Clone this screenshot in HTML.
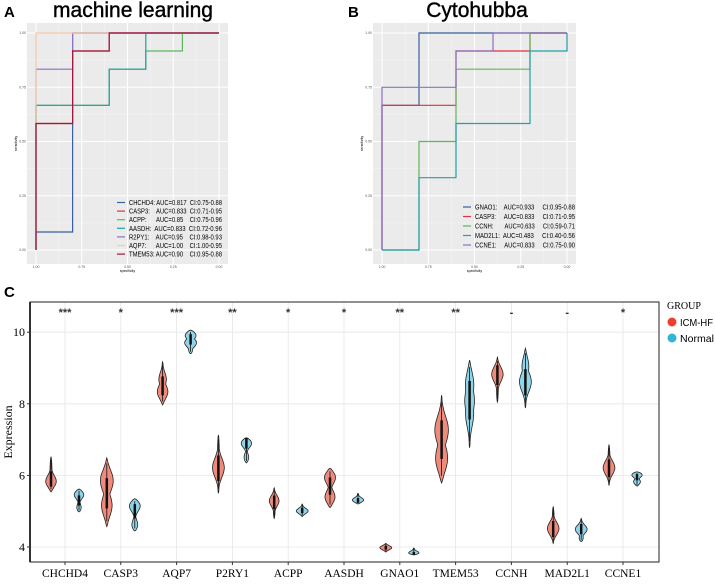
<!DOCTYPE html>
<html><head><meta charset="utf-8"><style>
body{margin:0;background:#fff;width:715px;height:580px;overflow:hidden}
svg{font-family:"Liberation Sans",sans-serif}
.serif{font-family:"Liberation Serif",serif}
.pre{white-space:pre}
</style></head><body>
<svg id="s" width="715" height="580" viewBox="0 0 715 580" xmlns="http://www.w3.org/2000/svg">
<text x="4" y="17" font-size="15" font-weight="bold">A</text>
<text x="348" y="17" font-size="15" font-weight="bold">B</text>
<text x="4" y="297" font-size="15" font-weight="bold">C</text>
<text x="133" y="17" font-size="21" text-anchor="middle" stroke="#000" stroke-width="0.4">machine learning</text>
<text x="477" y="17" font-size="21" text-anchor="middle" stroke="#000" stroke-width="0.4">Cytohubba</text>
<g id="ga"></g>
<g id="gb"></g>
<g id="gc"></g>
</svg>
<script>
// ---- ROC data A ----
const rocANames=["CHCHD4","CASP3","ACPP","AASDH","R2PY1","AQP7","TMEM53"];
const rocALabels=["CHCHD4: AUC=0.817  CI:0.75-0.88","CASP3:    AUC=0.833  CI:0.71-0.95","ACPP:      AUC=0.85    CI:0.75-0.96","AASDH:  AUC=0.833  CI:0.72-0.96","R2PY1:    AUC=0.95    CI:0.98-0.93","AQP7:      AUC=1.00    CI:1.00-0.95","TMEM53: AUC=0.90    CI:0.95-0.88"];
const rocAColors=["#3a5fa0","#e0303a","#5cb85c","#20a0a8","#9070c0","#f8c8a8","#a01840"];
const rocACurves=[
[[1,0],[1,0.083],[0.8,0.083],[0.8,1],[0,1]],
[[1,0],[1,0.583],[0.8,0.583],[0.8,0.917],[0.6,0.917],[0.6,1],[0,1]],
[[1,0],[1,0.667],[0.6,0.667],[0.6,0.833],[0.4,0.833],[0.4,0.917],[0.2,0.917],[0.2,1],[0,1]],
[[1,0],[1,0.667],[0.6,0.667],[0.6,0.833],[0.4,0.833],[0.4,1],[0,1]],
[[1,0],[1,0.833],[0.8,0.833],[0.8,1],[0,1]],
[[1,0],[1,1],[0,1]],
[[1,0],[1,0.583],[0.8,0.583],[0.8,0.917],[0.6,0.917],[0.6,1],[0,1]]];
// ---- ROC data B ----
const rocBLabels=["GNAO1:    AUC=0.933     CI:0.95-0.88","CASP3:     AUC=0.833     CI:0.71-0.95","CCNH:       AUC=0.633     CI:0.59-0.71","MAD2L1:  AUC=0.483     CI:0.40-0.56","CCNE1:     AUC=0.833     CI:0.75-0.90"];
const rocBColors=["#3a5fa0","#e0303a","#5cb85c","#20a0a8","#9070c0"];
const rocBCurves=[
[[1,0],[1,0.667],[0.8,0.667],[0.8,1],[0,1]],
[[1,0],[1,0.667],[0.6,0.667],[0.6,0.917],[0.2,0.917],[0.2,1],[0,1]],
[[1,0],[0.8,0],[0.8,0.5],[0.6,0.5],[0.6,0.833],[0.2,0.833],[0.2,1],[0,1]],
[[1,0],[0.8,0],[0.8,0.333],[0.6,0.333],[0.6,0.583],[0.2,0.583],[0.2,0.917],[0,0.917],[0,1]],
[[1,0],[1,0.75],[0.6,0.75],[0.6,0.917],[0.4,0.917],[0.4,1],[0,1]]];
const rocTicks=[1,0.75,0.5,0.25,0];
const rocTickLabels=["1.00","0.75","0.50","0.25","0.00"];
// ---- Violin data C ----
const genes=["CHCHD4","CASP3","AQP7","P2RY1","ACPP","AASDH","GNAO1","TMEM53","CCNH","MAD2L1","CCNE1"];
const sigLabels=["***","*","***","**","*","*","**","**","-","-","*"];
const redLo=[5.54,4.57,7.97,5.5,4.8,5.1,3.86,5.79,8.05,4.1,5.73];
const redHi=[6.51,6.49,9.17,7.13,5.65,6.2,4.1,8.24,9.3,5.12,6.85];
const redMed=[5.9,5.5,8.5,6.2,5.25,5.7,3.98,7.0,8.8,4.5,6.2];
const redBulgeAt=[[5.8],[5.9,5.1],[8.3,8.7],[6.2],[5.3],[6.0,5.35],[3.98],[7.3,6.4],[8.85],[4.5],[6.2]];
const redBulgeD=[[0.85],[1,0.85],[0.85,0.55],[0.85],[0.7],[1,0.85],[0.85],[1,1],[0.85],[0.85],[0.85]];
const bluLo=[4.98,4.45,9.4,6.35,4.85,5.2,3.78,6.77,7.88,4.15,5.7];
const bluHi=[5.62,5.35,10.06,7.05,5.2,5.5,3.97,9.22,9.55,4.8,6.1];
const bluMed=[5.3,5.0,9.8,6.9,5.02,5.3,3.82,8.1,8.6,4.5,5.95];
const bluBulgeAt=[[5.5,5.05],[5.2,4.55],[9.95,9.7,9.45],[6.95,6.45],[5.0],[5.3],[3.82],[8.6,7.7,8.1],[8.6,9.1],[4.5,4.2],[6.05,5.8]];
const bluBulgeD=[[0.85,0.45],[1,0.6],[1,0.85,0.45],[1,0.45],[0.85],[0.85],[0.85],[0.7,0.6,0.7],[0.85,0.55],[0.85,0.45],[1,0.55]];
const yTicks=[4,6,8,10];

const NS="http://www.w3.org/2000/svg";
function mk(tag,attrs,parent,name){const e=document.createElementNS(NS,tag);for(const k in attrs)e.setAttribute(k,attrs[k]);


parent.appendChild(e);return e;}

function roc(g,left,right,x0,x1,curves,colors,labels,legX,legY,legH,legW){
  const top=23,bot=264,y0=33,y1=250;
  const X=s=>x0+(1-s)*(x1-x0), Y=v=>y1-v*(y1-y0);
  mk('rect',{x:left,y:top,width:right-left,height:bot-top,fill:'#ebebeb'},g,'plot-background');
  for(let i=0;i<rocTicks.length-1;i++){const m=(rocTicks[i]+rocTicks[i+1])/2;
    mk('line',{x1:left,x2:right,y1:Y(m),y2:Y(m),stroke:'#f6f6f6','stroke-width':0.5},g,'minor-gridline');
    mk('line',{x1:X(m),x2:X(m),y1:top,y2:bot,stroke:'#f6f6f6','stroke-width':0.5},g,'minor-gridline');}
  rocTicks.forEach((t,i)=>{
    mk('line',{x1:left,x2:right,y1:Y(t),y2:Y(t),stroke:'#fff','stroke-width':1},g,'y-gridline');
    mk('line',{x1:X(t),x2:X(t),y1:top,y2:bot,stroke:'#fff','stroke-width':1},g,'x-gridline');
    const a=mk('text',{x:left-1,y:Y(t)+1,'font-size':3.5,'text-anchor':'end',fill:'#555'},g,'y-tick-label');a.textContent=rocTickLabels[i];
    const b=mk('text',{x:X(t),y:bot+4,'font-size':3.5,'text-anchor':'middle',fill:'#555'},g,'x-tick-label');b.textContent=rocTickLabels[i];
  });
  const yt=mk('text',{x:left-10,y:(top+bot)/2,'font-size':3.5,'text-anchor':'middle',transform:`rotate(-90 ${left-10} ${(top+bot)/2})`},g,'y-axis-title');yt.textContent='sensitivity';
  const xt=mk('text',{x:(left+right)/2,y:bot+8,'font-size':3.5,'text-anchor':'middle'},g,'x-axis-title');xt.textContent='specificity';
  curves.forEach((c,i)=>{const d=c.map((p,j)=>(j?'L':'M')+X(p[0]).toFixed(1)+' '+Y(p[1]).toFixed(1)).join(' ');
    mk('path',{d:d,fill:'none',stroke:colors[i],'stroke-width':1.2},g,'roc-curve');});
  labels.forEach((l,i)=>{const yy=legY+i*legH;
    mk('line',{x1:legX,x2:legX+8,y1:yy,y2:yy,stroke:colors[i],'stroke-width':1.2},g,'legend-swatch');
    const t=mk('text',{x:legX+12,y:yy+2.5,'font-size':7,class:'pre',textLength:legW,lengthAdjust:'spacingAndGlyphs'},g,'legend-entry');t.textContent=l;});
}
roc(document.getElementById('ga'),27,228,36,219,rocACurves,rocAColors,rocALabels,117,202.5,8.6,93);
roc(document.getElementById('gb'),373,576,382,567,rocBCurves,rocBColors,rocBLabels,463,207,9.5,100);

// ---- Panel C ----
const gc=document.getElementById('gc');
const L=30,R=659,T=302,B=562;
const Yv=v=>547-(v-4)*35.8;
const Xc=i=>65+i*55.8;
yTicks.forEach(t=>{mk('line',{x1:L,x2:R,y1:Yv(t),y2:Yv(t),stroke:'#e6e6e6','stroke-width':0.8},gc,'y-gridline');
  const a=mk('text',{x:L-5,y:Yv(t)+4,'font-size':12,'text-anchor':'end',class:'serif'},gc,'y-tick-label');a.textContent=t;
  mk('line',{x1:L-3,x2:L,y1:Yv(t),y2:Yv(t),stroke:'#333'},gc,'y-tick');});
genes.forEach((g,i)=>{mk('line',{x1:Xc(i),x2:Xc(i),y1:T,y2:B,stroke:'#e6e6e6','stroke-width':0.8},gc,'x-gridline');
  mk('line',{x1:Xc(i),x2:Xc(i),y1:B,y2:B+3,stroke:'#333'},gc,'x-tick');
  const a=mk('text',{x:Xc(i),y:B+15,'font-size':11.5,'text-anchor':'middle',class:'serif'},gc,'x-tick-label');a.textContent=g;
  const s=mk('text',{x:Xc(i),y:316,'font-size':11,'font-weight':'bold','text-anchor':'middle',fill:'#333'},gc,'significance-label');s.textContent=sigLabels[i];});
mk('rect',{x:L,y:T,width:R-L,height:B-T,fill:'none',stroke:'#222','stroke-width':1},gc,'plot-border');
mk('line',{x1:L,x2:L,y1:T,y2:B,stroke:'#333','stroke-width':2},gc,'y-axis-line');
const yl=mk('text',{x:12,y:432,'font-size':12,'text-anchor':'middle',class:'serif',transform:'rotate(-90 12 432)'},gc,'y-axis-title');yl.textContent='Expression';

function violin(cx,lo,hi,med,at,dd,fill){
  const n=40,sig=0.22*(hi-lo)+0.04,W=7;const left=[],right=[];
  for(let k=0;k<=n;k++){const v=lo+(hi-lo)*k/n,t=k/n;let h=0;
    at.forEach((c,j)=>{h=Math.max(h,dd[j]*Math.exp(-Math.pow((v-c)/sig,2)));});
    h=W*Math.max(h,0.15)*Math.pow(Math.sin(Math.PI*t),0.5);
    right.push([cx+h,Yv(v)]);left.unshift([cx-h,Yv(v)]);}
  const pts=right.concat(left);
  mk('path',{d:'M'+pts.map(p=>p[0].toFixed(1)+' '+p[1].toFixed(1)).join(' L')+'Z',fill:fill,stroke:'#222','stroke-width':0.8},gc,'violin');
  const q=(hi-lo);
  mk('line',{x1:cx,x2:cx,y1:Yv(hi-q*0.08),y2:Yv(lo+q*0.08),stroke:'#111','stroke-width':0.8},gc,'whisker');
  mk('line',{x1:cx,x2:cx,y1:Yv(Math.min(hi,med+q*0.22)),y2:Yv(Math.max(lo,med-q*0.22)),stroke:'#111','stroke-width':2.5},gc,'iqr-box');
}
genes.forEach((g,i)=>{
  violin(Xc(i)-14,redLo[i],redHi[i],redMed[i],redBulgeAt[i],redBulgeD[i],'#ef8b7c');
  violin(Xc(i)+14,bluLo[i],bluHi[i],bluMed[i],bluBulgeAt[i],bluBulgeD[i],'#8fd4e8');
});
const lt=mk('text',{x:667,y:309,'font-size':10,class:'serif'},gc,'legend-title');lt.textContent='GROUP';
mk('circle',{cx:672,cy:322,r:4.5,fill:'#ee3f2f'},gc,'legend-swatch-icm');
const l1=mk('text',{x:680,y:326,'font-size':10.5,textLength:33,lengthAdjust:'spacingAndGlyphs'},gc,'legend-entry-icm');l1.textContent='ICM-HF';
mk('circle',{cx:672,cy:338,r:4.5,fill:'#33b5d8'},gc,'legend-swatch-normal');
const l2=mk('text',{x:680,y:342,'font-size':10.5,textLength:34,lengthAdjust:'spacingAndGlyphs'},gc,'legend-entry-normal');l2.textContent='Normal';
</script>
</body></html>
